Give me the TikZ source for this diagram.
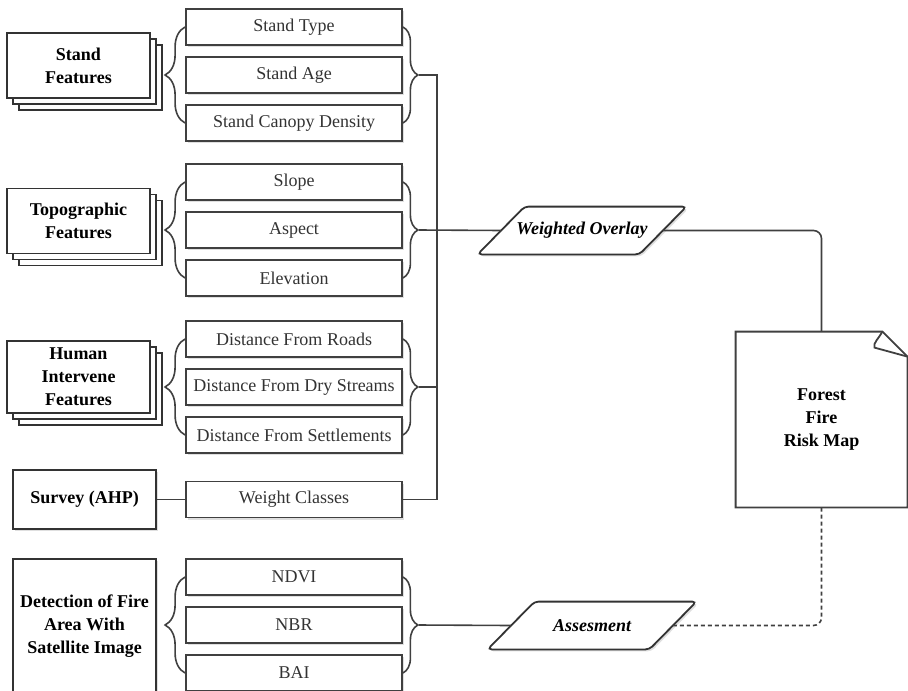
\documentclass[tikz,border=0pt]{standalone}
\usepackage{fontspec}
\setmainfont{Liberation Serif}
\usetikzlibrary{shapes,shadows,decorations.pathreplacing}
\newcommand{\figfont}{\fontsize{9}{11.5}\selectfont}
\tikzstyle{item} = [rectangle, draw=black!75, line width=0.9pt, fill=white, text=black!80, font=\figfont, minimum width=108pt, minimum height=18pt, drop shadow={shadow xshift=1pt, shadow yshift=-1pt, opacity=0.25}]
\tikzstyle{group} = [rectangle, draw=black!80, line width=0.9pt, fill=white, font=\figfont\bfseries, align=center, minimum width=71.5pt, minimum height=32.5pt, double copy shadow={shadow xshift=3pt, shadow yshift=-3pt}]
\tikzstyle{source} = [rectangle, draw=black!80, line width=0.9pt, fill=white, font=\figfont\bfseries, align=center, minimum width=71.5pt, drop shadow={shadow xshift=1pt, shadow yshift=-1pt, opacity=0.25}]
\tikzstyle{data} = [rectangle, minimum width=80.5pt, minimum height=23.5pt]
\tikzstyle{dataframe} = [draw=black!80, line width=0.9pt, fill=white, rounded corners=2pt, drop shadow={shadow xshift=1pt, shadow yshift=-1pt, opacity=0.25}]
\tikzstyle{line} = [draw, line width=0.8pt, black!75]
\tikzstyle{lbrace} = [draw, line width=0.8pt, black!75, decorate, decoration={brace, amplitude=10pt}]
\tikzstyle{rbrace} = [draw, line width=0.8pt, black!75, decorate, decoration={brace, amplitude=7.5pt}]

\begin{document}
\begin{tikzpicture}[x=0.5pt, y=-0.5pt]
	\tikzset{dotted link/.style={draw=black!75, line width=0.8pt, dash pattern=on 2pt off 1.5pt, rounded corners=4pt}}
	\clip (0,0) rectangle (908,690);
	% stand features
	\node [group] (sf) at (78.5,65.5) {Stand\\Features};
	\node [item] (st) at (294,27) {Stand Type};
	\node [item, below of=st, node distance=24pt] (sa) {Stand Age};
	\node [item, below of=sa, node distance=24pt] (scd) {Stand Canopy Density};
	% topographic features
	\node [group] (tf) at (78.5,221) {Topographic\\Features};
	\node [item] (sl) at (294,182) {Slope};
	\node [item, below of=sl, node distance=24pt] (asp) {Aspect};
	\node [item, below of=asp, node distance=24pt] (el) {Elevation};
	% human intervene features
	\node [group] (hf) at (78.5,377) {Human\\Intervene\\Features};
	\node [item] (dr) at (294,339) {Distance From Roads};
	\node [item, below of=dr, node distance=24pt] (dds) {Distance From Dry Streams};
	\node [item, below of=dds, node distance=24pt] (dse) {Distance From Settlements};
	% survey
	\node [source, minimum height=29.5pt] (ahp) at (84.5,499.5) {Survey (AHP)};
	\node [item] (wc) at (294,499.5) {Weight Classes};
	% satellite detection
	\node [source, minimum height=67pt] (det) at (84.5,626) {Detection of Fire\\Area With\\Satellite Image};
	\node [item] (ndvi) at (294,577) {NDVI};
	\node [item, below of=ndvi, node distance=24pt] (nbr) {NBR};
	\node [item, below of=nbr, node distance=24pt] (bai) {BAI};
	% weighted overlay and assesment
	\node [data] (wo) at (582,230.5) {};
	\draw [dataframe] ([xshift=-11.75pt]wo.south west) -- ([xshift=11.75pt]wo.north west) -- ([xshift=11.75pt]wo.north east) -- ([xshift=-11.75pt]wo.south east) -- cycle;
	\node [font=\figfont\bfseries\itshape] (wol) at (wo) {Weighted Overlay};
	\node [data] (as) at (592,625.5) {};
	\draw [dataframe] ([xshift=-11.75pt]as.south west) -- ([xshift=11.75pt]as.north west) -- ([xshift=11.75pt]as.north east) -- ([xshift=-11.75pt]as.south east) -- cycle;
	\node [font=\figfont\bfseries\itshape] (asl) at (as) {Assesment};
	% risk map
	\node [minimum width=85.5pt, minimum height=87.5pt] (map) at (821.5,419.5) {};
	\draw [line, line width=0.9pt, fill=white] (map.north west) -- ([xshift=-12.5pt]map.north east) -- ([yshift=-12.5pt]map.north east) -- (map.south east) -- (map.south west) -- cycle;
	\draw [line, line width=0.9pt] ([xshift=-12.5pt]map.north east) .. controls ([shift={(-14pt,-3pt)}]map.north east) and ([shift={(-17.5pt,-6pt)}]map.north east) .. ([shift={(-16.5pt,-8pt)}]map.north east) -- ([yshift=-12.5pt]map.north east);
	\node [font=\figfont\bfseries, align=center] (mapl) at (map) {Forest\\Fire\\Risk Map};
	% braces
	\draw [lbrace] (scd.west) -- (st.west);
	\draw [rbrace] (st.east) -- (scd.east);
	\draw [lbrace] (el.west) -- (sl.west);
	\draw [rbrace] (sl.east) -- (el.east);
	\draw [lbrace] (dse.west) -- (dr.west);
	\draw [rbrace] (dr.east) -- (dse.east);
	\draw [lbrace] (bai.west) -- (ndvi.west);
	\draw [rbrace] (ndvi.east) -- (bai.east);
	\coordinate (sfr) at ([xshift=8pt]sa.east);
	\coordinate (tfr) at ([xshift=8pt]asp.east);
	\coordinate (hfr) at ([xshift=8pt]dds.east);
	\coordinate (der) at ([xshift=8pt]nbr.east);
	\coordinate (bus) at (437,499.5);
	% connectors
	\path [line] (ahp) -- (wc);
	\path [line] (sfr) -| (bus) -- (wc.east);
	\path [line] (tfr) -- (wo.west);
	\path [line] (hfr) -- (hfr -| bus);
	\path [line] (der) -- (as.west);
	\path [line, rounded corners=4pt] (wo.east) -| (map.north);
	\path [dotted link] (as.east) -| (map.south);
\end{tikzpicture}
\end{document}
